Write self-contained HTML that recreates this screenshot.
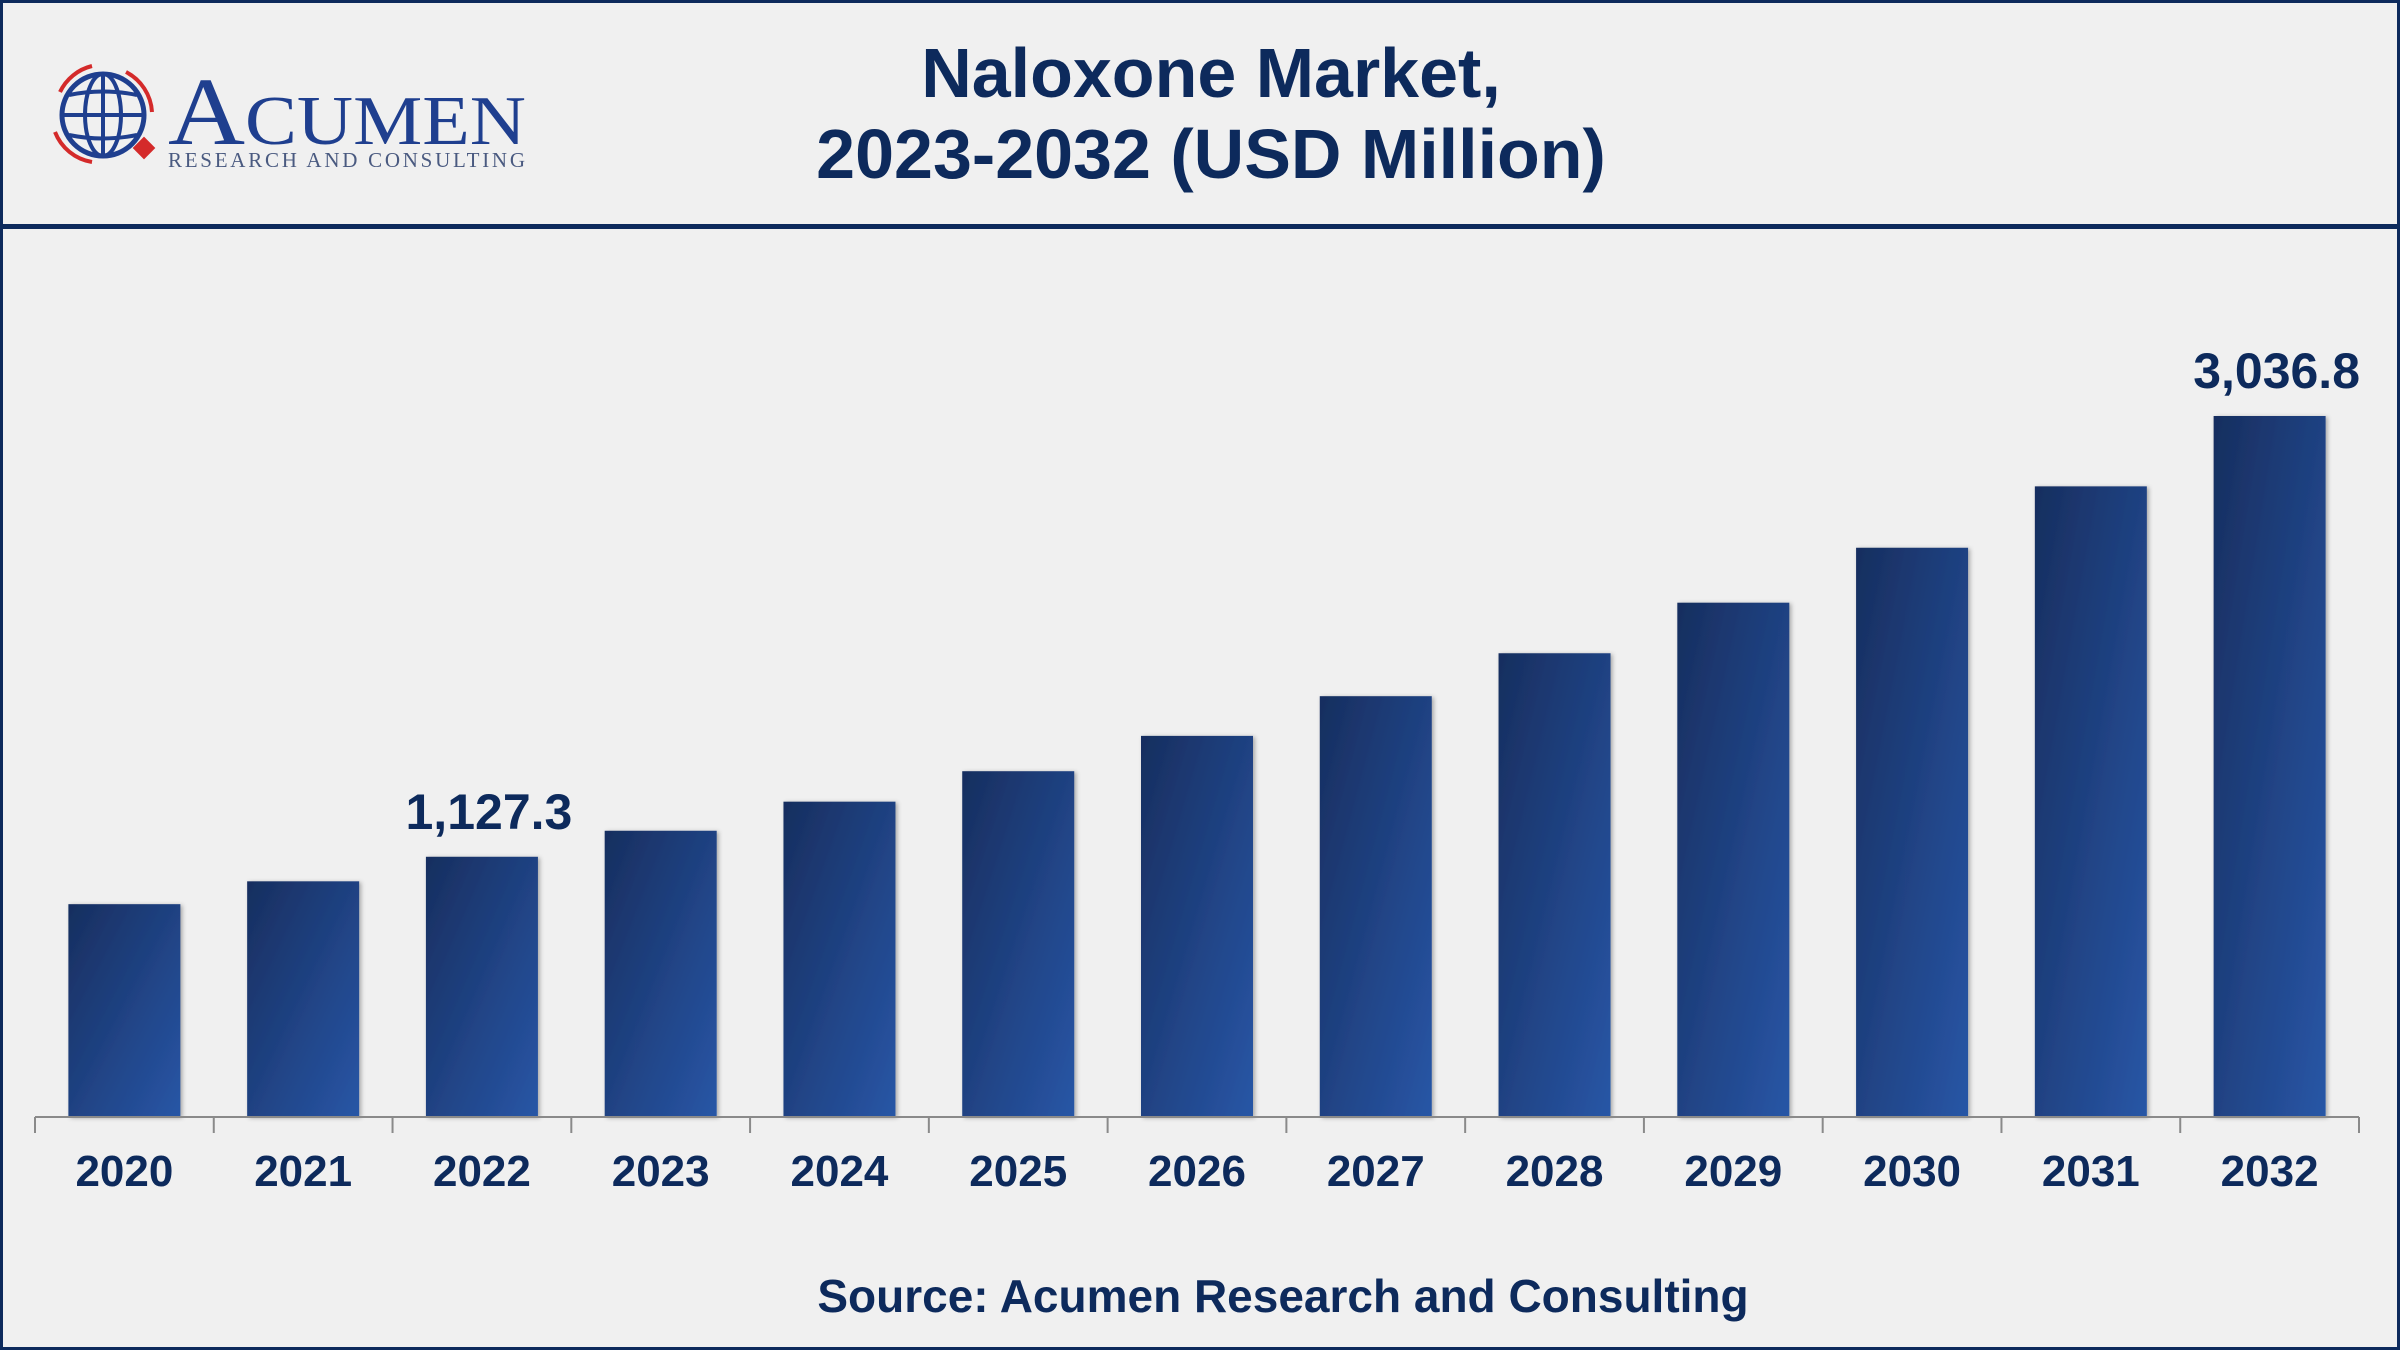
<!DOCTYPE html>
<html><head><meta charset="utf-8">
<style>
html,body{margin:0;padding:0;background:#f0f0f0;}
#root{position:relative;width:2400px;height:1350px;background:#f0f0f0;overflow:hidden;font-family:"Liberation Sans",Arial,sans-serif;}
</style></head>
<body>
<div id="root">
<svg width="2400" height="1350" viewBox="0 0 2400 1350" xmlns="http://www.w3.org/2000/svg">
  <defs>
    <linearGradient id="barGrad" x1="0" y1="0" x2="1" y2="1">
      <stop offset="0" stop-color="#172e5f"/>
      <stop offset="1" stop-color="#2856a6"/>
    </linearGradient>
    <filter id="sh" x="-10%" y="-10%" width="120%" height="120%">
      <feDropShadow dx="2" dy="1" stdDeviation="2" flood-color="#000" flood-opacity="0.3"/>
    </filter>
  </defs>
  <rect x="1.5" y="1.5" width="2397" height="1347" fill="none" stroke="#0d2a5c" stroke-width="3"/>
  <rect x="0" y="224" width="2400" height="5" fill="#0d2a5c"/>

  <g>
    <path d="M60 92 A48 48 0 0 1 92 66" fill="none" stroke="#d42a2a" stroke-width="4"/>
    <path d="M126 72 A48 48 0 0 1 152 112" fill="none" stroke="#d42a2a" stroke-width="4"/>
    <path d="M55 132 A48 48 0 0 0 92 162" fill="none" stroke="#d42a2a" stroke-width="4"/>
    <circle cx="103" cy="115" r="41" fill="none" stroke="#1f3f8f" stroke-width="5"/>
    <ellipse cx="103" cy="115" rx="18" ry="41" fill="none" stroke="#1f3f8f" stroke-width="4"/>
    <line x1="103" y1="74" x2="103" y2="156" stroke="#1f3f8f" stroke-width="4"/>
    <line x1="62" y1="115" x2="144" y2="115" stroke="#1f3f8f" stroke-width="4"/>
    <path d="M69 95 Q103 88 137 95 M69 135 Q103 142 137 135" fill="none" stroke="#1f3f8f" stroke-width="4"/>
    <rect x="136" y="140" width="16" height="16" fill="#d42a2a" transform="rotate(45 144 148)"/>
    <text x="168" y="144" font-family="Liberation Serif,serif" font-size="96" fill="#1f3f8f" textLength="358" lengthAdjust="spacingAndGlyphs">A<tspan font-size="70">CUMEN</tspan></text>
    <text x="168" y="167" font-family="Liberation Serif,serif" font-size="21" fill="#4a5a80" textLength="357">RESEARCH AND CONSULTING</text>
  </g>

  <text x="1211" y="97" text-anchor="middle" font-size="70" font-weight="bold" fill="#0d2a5c">Naloxone Market,</text>
  <text x="1211" y="178" text-anchor="middle" font-size="70" font-weight="bold" fill="#0d2a5c">2023-2032 (USD Million)</text>

  <g id="bars"></g>
  <g id="axis"></g>

  <text x="1283" y="1312" text-anchor="middle" font-size="46" font-weight="bold" fill="#0d2a5c">Source: Acumen Research and Consulting</text>
</svg>
</div>
<script>
const categories = ["2020","2021","2022","2023","2024","2025","2026","2027","2028","2029","2030","2031","2032"];
const values = [922, 1021, 1127.3, 1240, 1366, 1498, 1651, 1823, 2009, 2228, 2466, 2732, 3036.8];
const labeledValues = ["", "", "1,127.3", "", "", "", "", "", "", "", "", "", "3,036.8"];

const NS = "http://www.w3.org/2000/svg";
const x0 = 35, x1 = 2359, baseY = 1117, maxPx = 701, maxVal = 3036.8;
const band = (x1 - x0) / categories.length;
const barW = 112;
function xCenter(i){ return x0 + band * (i + 0.5); }
function yScale(v){ return baseY - v / maxVal * maxPx; }

const barsG = document.getElementById('bars');
const axisG = document.getElementById('axis');
categories.forEach((c, i) => {
  const r = document.createElementNS(NS, 'rect');
  const y = yScale(values[i]);
  r.setAttribute('x', xCenter(i) - barW / 2);
  r.setAttribute('y', y);
  r.setAttribute('width', barW);
  r.setAttribute('height', baseY - y);
  r.setAttribute('fill', 'url(#barGrad)');
  r.setAttribute('filter', 'url(#sh)');
  
  
  barsG.appendChild(r);
  if (labeledValues[i]) {
    const t = document.createElementNS(NS, 'text');
    t.setAttribute('x', xCenter(i) + 7);
    t.setAttribute('y', y - 28);
    t.setAttribute('text-anchor', 'middle');
    t.setAttribute('font-size', '50');
    t.setAttribute('font-weight', 'bold');
    t.setAttribute('fill', '#0d2a5c');
    t.textContent = labeledValues[i];
    
    
    barsG.appendChild(t);
  }
  const lt = document.createElementNS(NS, 'text');
  lt.setAttribute('x', xCenter(i));
  lt.setAttribute('y', 1186);
  lt.setAttribute('text-anchor', 'middle');
  lt.setAttribute('font-size', '44');
  lt.setAttribute('font-weight', 'bold');
  lt.setAttribute('fill', '#0d2a5c');
  lt.textContent = c;
  
  
  axisG.appendChild(lt);
});
const axisLine = document.createElementNS(NS, 'line');
axisLine.setAttribute('x1', x0); axisLine.setAttribute('x2', x1);
axisLine.setAttribute('y1', baseY); axisLine.setAttribute('y2', baseY);
axisLine.setAttribute('stroke', '#8a8a8a'); axisLine.setAttribute('stroke-width', '2');


axisG.appendChild(axisLine);
for (let i = 0; i <= categories.length; i++) {
  const tk = document.createElementNS(NS, 'line');
  const tx = x0 + band * i;
  tk.setAttribute('x1', tx); tk.setAttribute('x2', tx);
  tk.setAttribute('y1', baseY); tk.setAttribute('y2', baseY + 16);
  tk.setAttribute('stroke', '#8a8a8a'); tk.setAttribute('stroke-width', '2');
  
  
  axisG.appendChild(tk);
}
</script>
</body></html>
